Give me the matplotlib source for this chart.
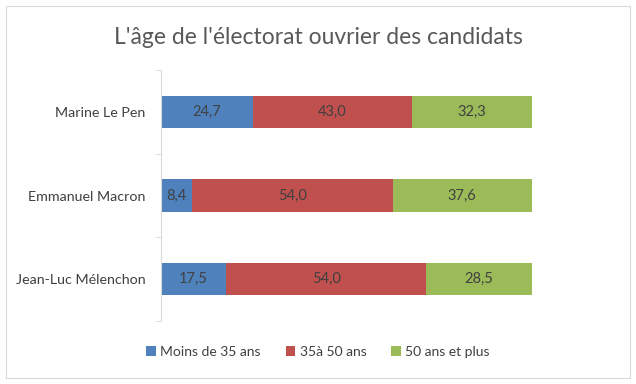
import matplotlib.pyplot as plt
from matplotlib.patches import Rectangle

plt.rcParams['font.family'] = ['Lato', 'DejaVu Sans']

candidats = ['Marine Le Pen', 'Emmanuel Macron', 'Jean-Luc Mélenchon']
moins_35 = [24.7, 8.4, 17.5]
de_35_50 = [43.0, 54.0, 54.0]
plus_50 = [32.3, 37.6, 28.5]
series = ['Moins de 35 ans', '35à 50 ans', '50 ans et plus']
couleurs = ['#4F81BD', '#C0504D', '#9BBB59']
txt = '#404040'

fig = plt.figure(figsize=(6.36, 3.84), dpi=100)
fig.patches.append(Rectangle((6/636, 6/384), 624/636, 372/384, transform=fig.transFigure,
                             fill=False, edgecolor='#D9D9D9', linewidth=0.8))
ax = fig.add_axes([161/636, 1-321/384, 371/636, 251/384])

y = list(range(len(candidats)))
left = [0]*len(candidats)
for vals, nom, c in zip([moins_35, de_35_50, plus_50], series, couleurs):
    bars = ax.barh(y, vals, left=left, height=0.39, color=c, label=nom)
    for b, v in zip(bars, vals):
        ax.text(b.get_x()+b.get_width()/2, b.get_y()+b.get_height()/2,
                f'{v:.1f}'.replace('.', ','), ha='center', va='center',
                color=txt, fontsize=10.5)
    left = [l+v for l, v in zip(left, vals)]

ax.set_xlim(0, 100)
ax.set_ylim(2.5, -0.5)
ax.set_yticks(y)
ax.set_yticklabels(candidats, color=txt, fontsize=10.3)
ax.set_yticks([-0.5, 0.5, 1.5, 2.5], minor=True)
ax.tick_params(axis='y', which='major', length=0, pad=11)
ax.tick_params(axis='y', which='minor', length=4, color='#D9D9D9')
ax.set_xticks([])
for s in ['top', 'right', 'bottom']:
    ax.spines[s].set_visible(False)
ax.spines['left'].set_color('#D9D9D9')

fig.text(0.5, 1-38/384, "L'âge de l'électorat ouvrier des candidats", ha='center', va='center',
         fontsize=16.5, color='#595959')
fig.legend(loc='center', bbox_to_anchor=(0.5, 1-352/384), ncol=3, frameon=False,
           fontsize=10, handlelength=0.7, handleheight=0.7, handletextpad=0.3,
           columnspacing=1.8, labelcolor=txt)

fig.savefig('out.png', dpi=100)
